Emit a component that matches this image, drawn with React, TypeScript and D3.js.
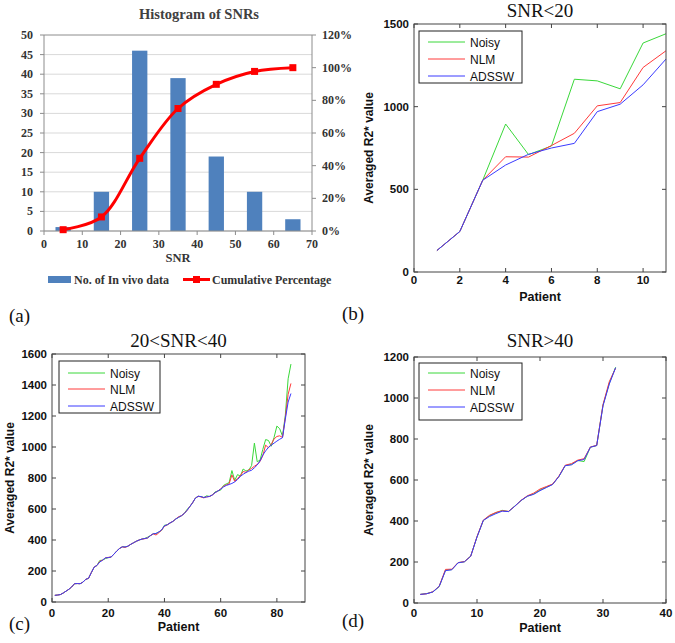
import React from 'react';
import * as d3 from 'd3';

// ---------- Panel (a) data ----------
const SNR_BINS = [5, 15, 25, 35, 45, 55, 65];
const IN_VIVO_COUNTS = [1, 10, 46, 39, 19, 10, 3];
const CUMULATIVE_PCT = [0.8, 8.6, 44.5, 75.0, 89.8, 97.7, 100];
const HIST_X_TICKS = [0, 10, 20, 30, 40, 50, 60, 70];
const HIST_Y_TICKS = [0, 5, 10, 15, 20, 25, 30, 35, 40, 45, 50];
const HIST_PCT_TICKS = [0, 20, 40, 60, 80, 100, 120];

// ---------- Panels (b)-(d) data ----------
const SERIES_NAMES = ['Noisy', 'NLM', 'ADSSW'];

const B_NOISY = [130, 245, 555, 895, 710, 762, 1166, 1156, 1108, 1385, 1441];
const B_NLM = [130, 245, 555, 697, 695, 765, 839, 1005, 1025, 1237, 1338];
const B_ADSSW = [130, 245, 555, 647, 712, 750, 778, 970, 1015, 1132, 1288];
const B_X_TICKS = [0, 2, 4, 6, 8, 10];
const B_Y_TICKS = [0, 500, 1000, 1500];

const C_NOISY = [43, 45, 48, 58, 70, 82, 97, 118, 119, 118, 128, 146, 153, 190, 225, 236, 268, 270, 280, 286,
  290, 308, 328, 345, 356, 355, 360, 372, 382, 392, 400, 406, 410, 418, 428, 440, 442, 452, 462, 495,
  498, 510, 520, 535, 546, 556, 570, 596, 615, 640, 670, 682, 680, 674, 685, 681, 690, 710, 716, 722,
  752, 762, 770, 848, 785, 822, 812, 858, 845, 852, 880, 1025, 905, 915, 985, 1048, 1042, 1005, 1062, 1135,
  1118, 1070, 1205, 1440, 1535];
const C_NLM = [43, 45, 48, 58, 70, 82, 97, 118, 119, 118, 128, 146, 153, 190, 225, 236, 262, 270, 285, 288,
  290, 308, 328, 345, 356, 352, 360, 372, 382, 392, 400, 406, 408, 413, 428, 440, 432, 446, 465, 488,
  498, 510, 520, 535, 550, 556, 570, 590, 615, 640, 670, 682, 678, 672, 678, 681, 690, 705, 716, 730,
  746, 756, 762, 820, 778, 798, 815, 842, 836, 852, 862, 876, 888, 906, 945, 1012, 995, 1018, 1052, 1068,
  1072, 1062, 1190, 1340, 1410];
const C_ADSSW = [43, 45, 48, 58, 70, 82, 97, 118, 119, 118, 128, 146, 153, 190, 225, 236, 258, 270, 285, 286,
  290, 308, 328, 345, 356, 355, 360, 372, 382, 392, 400, 406, 410, 413, 428, 440, 442, 452, 465, 492,
  498, 510, 520, 535, 546, 556, 570, 590, 615, 640, 670, 682, 680, 674, 678, 681, 690, 705, 716, 728,
  742, 752, 758, 765, 775, 790, 810, 824, 835, 844, 850, 866, 884, 910, 948, 975, 998, 1012, 1025, 1038,
  1050, 1060, 1180, 1290, 1345];
const C_X_TICKS = [0, 20, 40, 60, 80];
const C_Y_TICKS = [0, 200, 400, 600, 800, 1000, 1200, 1400, 1600];

const D_NOISY = [42, 46, 54, 80, 160, 163, 197, 201, 229, 322, 402, 426, 440, 452, 446, 473, 500, 521, 532, 551,
  565, 579, 617, 670, 676, 695, 690, 760, 768, 965, 1072, 1150];
const D_NLM = [42, 45, 55, 82, 164, 165, 197, 202, 228, 324, 404, 428, 442, 450, 447, 472, 501, 523, 536, 556,
  568, 580, 619, 672, 680, 697, 704, 761, 769, 968, 1080, 1145];
const D_ADSSW = [42, 45, 54, 81, 158, 162, 196, 201, 228, 322, 403, 422, 436, 448, 446, 472, 500, 521, 530, 548,
  563, 578, 617, 670, 674, 694, 700, 760, 768, 962, 1068, 1148];
const D_X_TICKS = [0, 10, 20, 30, 40];
const D_Y_TICKS = [0, 200, 400, 600, 800, 1000, 1200];

const LINE_COLORS = ['#3ad83a', '#ff3a3a', '#3a3aff'];

const SERIF = '"Liberation Serif", "Times New Roman", serif';
const SANS = '"Liberation Sans", Arial, sans-serif';

function Histogram() {
  const L = 44, R = 312, T = 35, B = 231;
  const x = d3.scaleLinear().domain([0, 70]).range([L, R]);
  const y = d3.scaleLinear().domain([0, 50]).range([B, T]);
  const yp = d3.scaleLinear().domain([0, 120]).range([B, T]);
  const line = d3.line<number>()
    .x((_, i) => x(SNR_BINS[i]))
    .y((d) => yp(d))
    .curve(d3.curveCatmullRom.alpha(0.5));
  const txt = '#333333';
  const gridC = '#d9d9d9';
  const axC = '#8c8c8c';
  return (
    <g fontFamily={SERIF} fontWeight="bold" fill={txt}>
      <text x={199} y={19} textAnchor="middle" fontSize={14.5} fill="#404040">Histogram of SNRs</text>
      {HIST_Y_TICKS.map((t) => (
        <line key={'g' + t} x1={L} x2={R} y1={y(t)} y2={y(t)} stroke={t === 50 ? axC : gridC} strokeWidth={1} />
      ))}
      {SNR_BINS.map((c, i) => (
        <rect key={'b' + c} x={x(c - 2)} width={x(c + 2) - x(c - 2)} y={y(IN_VIVO_COUNTS[i])}
          height={B - y(IN_VIVO_COUNTS[i])} fill="#4f81bd" />
      ))}
      <line x1={L} x2={L} y1={T} y2={B} stroke={axC} />
      <line x1={R} x2={R} y1={T} y2={B} stroke={axC} />
      <line x1={L} x2={R} y1={B} y2={B} stroke={axC} />
      {HIST_X_TICKS.map((t) => (
        <line key={'xt' + t} x1={x(t)} x2={x(t)} y1={B} y2={B + 4} stroke={axC} />
      ))}
      {HIST_Y_TICKS.map((t) => (
        <line key={'yt' + t} x1={L - 4} x2={L} y1={y(t)} y2={y(t)} stroke={axC} />
      ))}
      {HIST_PCT_TICKS.map((t) => (
        <line key={'pt' + t} x1={R} x2={R + 4} y1={yp(t)} y2={yp(t)} stroke={axC} />
      ))}
      <path d={line(CUMULATIVE_PCT) || ''} fill="none" stroke="#ff0000" strokeWidth={3} />
      {CUMULATIVE_PCT.map((v, i) => (
        <rect key={'m' + i} x={x(SNR_BINS[i]) - 3.5} y={yp(v) - 3.5} width={7} height={7} fill="#ff0000" />
      ))}
      {HIST_Y_TICKS.map((t) => (
        <text key={'yl' + t} x={33} y={y(t) + 4} textAnchor="end" fontSize={12}>{t}</text>
      ))}
      {HIST_PCT_TICKS.map((t) => (
        <text key={'pl' + t} x={322} y={yp(t) + 4} textAnchor="start" fontSize={12}>{t + '%'}</text>
      ))}
      {HIST_X_TICKS.map((t) => (
        <text key={'xl' + t} x={x(t)} y={248} textAnchor="middle" fontSize={12}>{t}</text>
      ))}
      <text x={178} y={262} textAnchor="middle" fontSize={12.5}>SNR</text>
      <rect x={48} y={276} width={23} height={7} fill="#4f81bd" />
      <text x={74} y={284} fontSize={12}>No. of In vivo data</text>
      <line x1={183} x2={210} y1={279.5} y2={279.5} stroke="#ff0000" strokeWidth={3} />
      <rect x={193} y={276} width={7} height={7} fill="#ff0000" />
      <text x={212} y={284} fontSize={12}>Cumulative Percentage</text>
    </g>
  );
}

type PanelProps = {
  L: number; R: number; T: number; B: number;
  xMax: number; yMax: number;
  xTicks: number[]; yTicks: number[];
  series: number[][];
  title: string; titleY: number;
  legend: { x: number; y: number; w: number; h: number; rows: number[] };
  xTickBase: number; yLabelX: number;
};

function MatlabPanel(p: PanelProps) {
  const x = d3.scaleLinear().domain([0, p.xMax]).range([p.L, p.R]);
  const y = d3.scaleLinear().domain([0, p.yMax]).range([p.B, p.T]);
  const line = d3.line<number>().x((_, i) => x(i + 1)).y((d) => y(d));
  const cx = (p.L + p.R) / 2;
  const cy = (p.T + p.B) / 2;
  const tk = 4;
  return (
    <g>
      {p.series.map((s, k) => (
        <path key={'s' + k} d={line(s) || ''} fill="none" stroke={LINE_COLORS[k]} strokeWidth={1} />
      ))}
      <rect x={p.L} y={p.T} width={p.R - p.L} height={p.B - p.T} fill="none" stroke="#444" strokeWidth={1} />
      {p.xTicks.map((t) => (
        <g key={'xt' + t}>
          <line x1={x(t)} x2={x(t)} y1={p.B} y2={p.B - tk} stroke="#444" />
          <line x1={x(t)} x2={x(t)} y1={p.T} y2={p.T + tk} stroke="#444" />
        </g>
      ))}
      {p.yTicks.map((t) => (
        <g key={'yt' + t}>
          <line x1={p.L} x2={p.L + tk} y1={y(t)} y2={y(t)} stroke="#444" />
          <line x1={p.R} x2={p.R - tk} y1={y(t)} y2={y(t)} stroke="#444" />
        </g>
      ))}
      <g fontFamily={SANS} fontWeight="bold" fontSize={11.5} fill="#111">
        {p.xTicks.map((t) => (
          <text key={'xl' + t} x={x(t)} y={p.B + p.xTickBase} textAnchor="middle">{t}</text>
        ))}
        {p.yTicks.map((t) => (
          <text key={'yl' + t} x={p.L - 5} y={y(t) + 4} textAnchor="end">{t}</text>
        ))}
        <text x={cx} y={p.B + 29} textAnchor="middle" fontSize={12.5}>Patient</text>
        <text transform={`translate(${p.yLabelX},${cy}) rotate(-90)`} textAnchor="middle"
          dominantBaseline="central" fontSize={12}>Averaged R2* value</text>
      </g>
      <text x={cx} y={p.titleY} textAnchor="middle" fontFamily={SERIF} fontSize={19} fill="#111">{p.title}</text>
      <rect x={p.legend.x} y={p.legend.y} width={p.legend.w} height={p.legend.h} fill="#fff" stroke="#222" strokeWidth={1} />
      {SERIES_NAMES.map((n, k) => (
        <g key={'lg' + n}>
          <line x1={p.legend.x + 9} x2={p.legend.x + 46} y1={p.legend.rows[k]} y2={p.legend.rows[k]}
            stroke={LINE_COLORS[k]} strokeWidth={1} />
          <text x={p.legend.x + 51} y={p.legend.rows[k] + 4.5} fontFamily={SANS} fontSize={12} fill="#111">{n}</text>
        </g>
      ))}
    </g>
  );
}

export default function App() {
  return (
    <svg width={675} height={643} style={{ position: 'absolute', left: 0, top: 0, background: '#fff' }}>
      <rect x={0} y={0} width={675} height={643} fill="#fff" />
      <Histogram />
      <MatlabPanel L={414} R={666} T={24} B={272} xMax={11} yMax={1500}
        xTicks={B_X_TICKS} yTicks={B_Y_TICKS} series={[B_NOISY, B_NLM, B_ADSSW]}
        title="SNR<20" titleY={17}
        legend={{ x: 419, y: 31, w: 103, h: 52, rows: [42, 59, 76] }}
        xTickBase={12} yLabelX={369} />
      <MatlabPanel L={52} R={305} T={354} B={602} xMax={90} yMax={1600}
        xTicks={C_X_TICKS} yTicks={C_Y_TICKS} series={[C_NOISY, C_NLM, C_ADSSW]}
        title="20<SNR<40" titleY={347}
        legend={{ x: 59, y: 361, w: 101, h: 52, rows: [373, 389, 406] }}
        xTickBase={14.5} yLabelX={10} />
      <MatlabPanel L={414} R={666} T={357} B={603} xMax={40} yMax={1200}
        xTicks={D_X_TICKS} yTicks={D_Y_TICKS} series={[D_NOISY, D_NLM, D_ADSSW]}
        title="SNR>40" titleY={347}
        legend={{ x: 419, y: 363, w: 103, h: 57, rows: [373, 390, 407] }}
        xTickBase={14} yLabelX={369} />
      <g fontFamily={SERIF} fontSize={19} fill="#111">
        <text x={9} y={322}>(a)</text>
        <text x={342} y={320}>(b)</text>
        <text x={9} y={630}>(c)</text>
        <text x={342} y={627}>(d)</text>
      </g>
    </svg>
  );
}
